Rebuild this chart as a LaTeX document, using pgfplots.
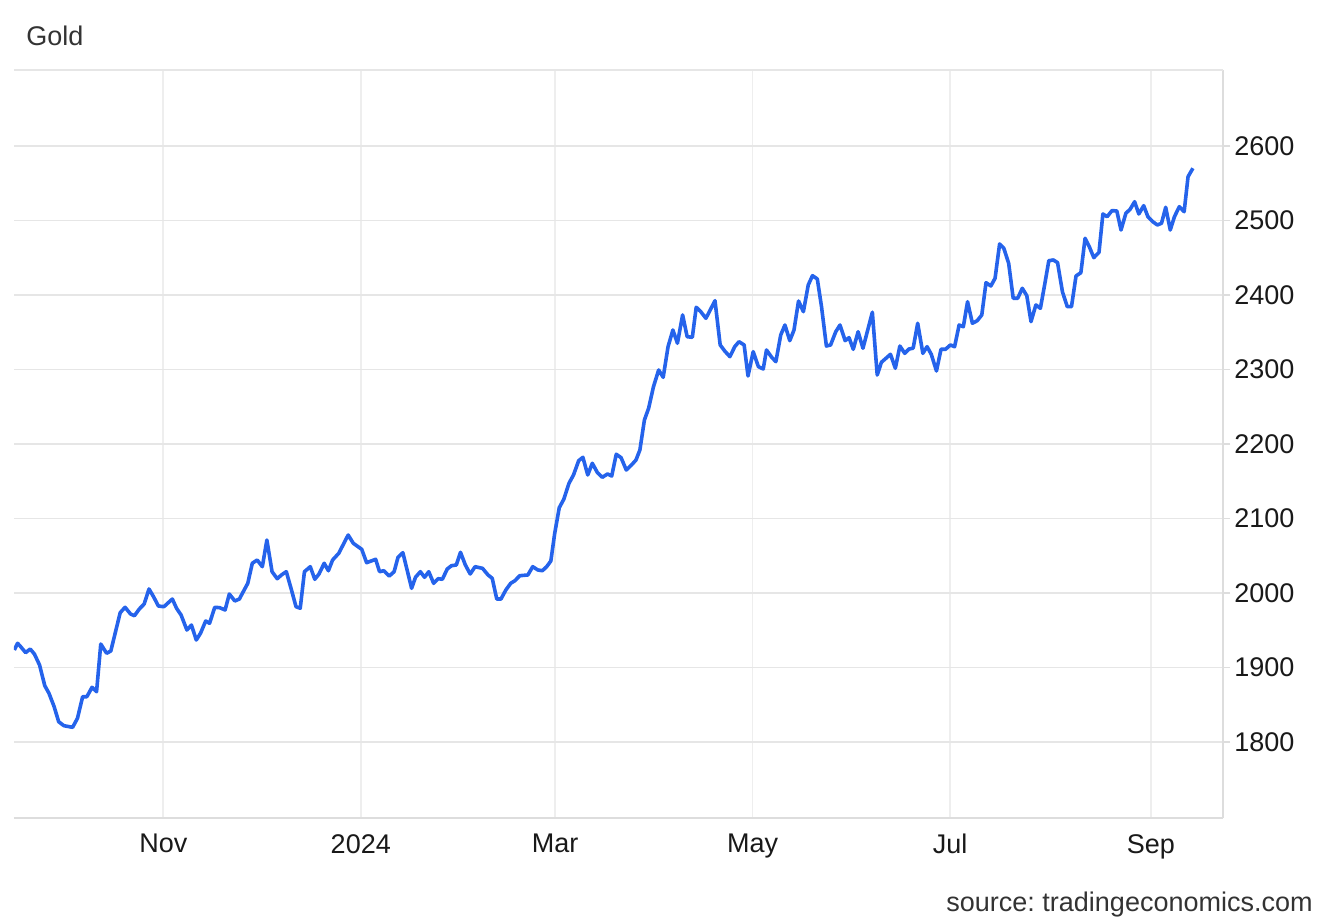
\documentclass[border=0pt]{standalone}
\usepackage{fontspec}
\setmainfont{Liberation Sans}
\usepackage{pgfplots}
\pgfplotsset{compat=1.18}
\definecolor{goldline}{HTML}{2563EB}
\definecolor{gridh}{HTML}{E6E6E6}
\definecolor{gridv}{HTML}{EEEEEE}
\definecolor{axisgray}{HTML}{DDDDDD}
\definecolor{labelgray}{HTML}{333333}

% x: days since 1 Nov 2023, y: gold price (USD/t.oz)
\begin{document}
\frenchspacing
\begin{tikzpicture}
\useasboundingbox (0,0) rectangle (666pt,462pt);
\begin{axis}[
  at={(7pt,53pt)}, anchor=south west,
  scale only axis, width=604.5pt, height=374pt,
  xmin=-46.1, xmax=327.3, ymin=1698, ymax=2702,
  axis x line*=bottom, axis y line*=right,
  axis line style={axisgray, line width=0.8pt, -},
  every outer x axis line/.append style={-},
  every outer y axis line/.append style={-},
  xtick={0,61,121,182,243,305},
  xticklabels={Nov,2024,Mar,May,Jul,Sep},
  ytick={1800,1900,...,2600},
  xtick style={draw=none},
  ytick style={axisgray, line width=0.8pt},
  tick align=outside, major tick length=3.5pt,
  xmajorgrids, ymajorgrids,
  y grid style={gridh, line width=0.8pt},
  x grid style={gridv, line width=0.8pt},
  tick label style={font=\fontsize{13.5}{16}\selectfont, text=black!90},
  /pgf/number format/assume math mode=true,
  /pgf/number format/1000 sep={},
  yticklabel style={anchor=west, inner sep=0pt, xshift=2pt},
  xticklabel style={anchor=north, inner sep=0pt, yshift=-4.5pt},
]
\draw[gridh, line width=0.8pt] (rel axis cs:0,1) -- (rel axis cs:1,1);
\addplot[goldline, line width=1.8pt, line join=round] table {
x y
-46.0 1923.5
-45.0 1932.5
-44.2 1928.8
-42.5 1919.9
-41.1 1924.8
-39.8 1918.1
-38.2 1903.3
-36.6 1875.6
-35.3 1865.4
-33.7 1847.4
-32.3 1827.2
-30.7 1821.9
-28.0 1819.7
-26.5 1831.8
-24.9 1860.8
-23.6 1860.8
-22.0 1873.4
-20.6 1867.5
-19.3 1931.5
-17.5 1919.1
-16.2 1922.1
-13.3 1973.6
-11.8 1980.8
-10.1 1971.8
-8.9 1969.5
-7.4 1978.5
-5.9 1985.2
-4.4 2005.4
-3.0 1995.0
-1.5 1982.5
0.2 1981.6
2.8 1991.9
4.1 1979.5
5.5 1970.5
7.3 1950.3
8.7 1957.0
10.2 1936.9
11.5 1945.9
13.1 1962.4
14.3 1959.3
15.9 1980.8
17.4 1980.3
19.1 1977.2
20.4 1998.6
22.1 1989.3
23.5 1991.9
26.1 2013.0
27.5 2039.9
29.0 2044.3
30.6 2035.3
32.0 2071.1
33.6 2028.6
35.2 2019.2
36.5 2024.2
38.0 2028.6
39.6 2004.0
41.0 1981.6
42.3 1979.5
43.6 2028.6
45.4 2035.3
46.8 2018.4
48.1 2025.5
49.7 2039.9
51.0 2029.9
52.3 2044.3
54.2 2053.3
57.1 2077.8
58.7 2066.7
61.3 2058.6
62.8 2040.7
65.6 2045.2
66.8 2028.6
68.1 2029.9
69.8 2022.8
71.3 2028.6
72.5 2047.9
74.0 2054.1
76.7 2006.3
77.9 2021.1
79.4 2028.6
80.7 2021.1
82.0 2028.6
83.5 2013.0
84.9 2019.2
86.2 2018.4
87.7 2032.2
89.0 2036.6
90.5 2037.6
91.8 2054.6
93.3 2037.6
94.8 2025.5
96.3 2035.3
98.6 2033.1
100.3 2024.2
101.6 2019.7
103.0 1991.9
104.3 1991.9
105.8 2004.0
107.3 2013.0
108.6 2016.5
110.1 2023.2
112.6 2024.2
114.1 2035.3
115.7 2030.9
117.1 2029.9
118.4 2035.3
119.7 2042.9
120.9 2080.1
122.3 2114.5
123.7 2125.8
125.3 2147.2
126.7 2158.4
128.3 2177.6
129.6 2182.1
131.1 2158.4
132.5 2174.1
134.1 2161.5
135.6 2155.3
137.2 2159.7
138.5 2157.0
139.9 2186.2
141.4 2181.6
143.0 2165.1
144.6 2171.8
146.0 2178.5
147.2 2191.9
148.6 2232.2
149.9 2247.9
151.4 2276.9
153.0 2299.3
154.4 2289.5
155.9 2330.6
157.4 2353.0
158.8 2335.2
160.4 2373.2
161.8 2344.0
163.4 2343.2
164.6 2383.5
166.0 2377.6
167.6 2368.7
170.4 2392.3
172.0 2332.9
173.4 2324.8
175.0 2317.2
176.5 2330.6
177.8 2337.3
179.4 2332.9
180.6 2291.3
182.2 2323.9
183.8 2303.8
185.3 2300.7
186.3 2326.2
187.9 2316.4
189.2 2310.5
190.7 2346.3
192.0 2359.7
193.5 2338.7
194.8 2353.0
196.2 2391.9
197.7 2377.6
199.2 2413.4
200.5 2425.9
202.0 2421.5
203.3 2384.3
204.8 2331.5
206.1 2332.9
207.7 2350.7
209.0 2359.7
210.6 2338.7
211.8 2342.7
213.1 2327.1
214.6 2350.7
216.1 2328.5
219.0 2376.8
220.5 2292.6
221.8 2309.7
223.4 2315.8
224.6 2320.4
226.1 2301.6
227.5 2331.5
229.0 2321.7
230.3 2327.5
231.6 2328.5
233.0 2362.0
234.6 2321.7
235.9 2330.6
237.2 2320.4
238.8 2298.0
240.2 2327.1
241.6 2327.1
243.1 2332.9
244.4 2330.6
245.8 2359.7
247.1 2357.4
248.4 2391.0
249.9 2362.0
251.4 2365.5
252.8 2373.2
254.1 2416.5
255.6 2412.1
256.9 2422.4
258.3 2468.5
259.6 2462.7
261.1 2442.5
262.5 2395.6
263.9 2395.6
265.3 2409.0
266.7 2399.1
268.0 2364.2
269.5 2386.6
270.9 2382.1
272.2 2413.4
273.5 2446.0
274.9 2447.0
276.2 2443.4
277.7 2404.4
279.2 2384.3
280.5 2384.3
281.9 2425.5
283.4 2429.9
284.7 2476.1
286.0 2464.8
287.4 2450.1
289.0 2457.3
290.2 2508.7
291.5 2505.1
293.0 2513.2
294.5 2512.8
295.8 2487.2
297.3 2509.7
298.6 2515.0
300.0 2525.2
301.3 2508.7
302.8 2519.9
304.1 2505.1
305.6 2498.4
307.0 2494.0
308.3 2496.2
309.6 2517.7
311.0 2487.2
312.3 2505.1
313.8 2518.5
315.3 2511.8
316.5 2558.8
318.0 2570.1
};
\end{axis}
\node[anchor=base west, inner sep=0pt, font=\fontsize{13.5}{16}\selectfont, text=labelgray] at (13pt,439pt) {Gold};
\node[anchor=base east, inner sep=0pt, font=\fontsize{13.5}{16}\selectfont, text=labelgray] at (656.5pt,6pt) {source: tradingeconomics.com};
\end{tikzpicture}
\end{document}
